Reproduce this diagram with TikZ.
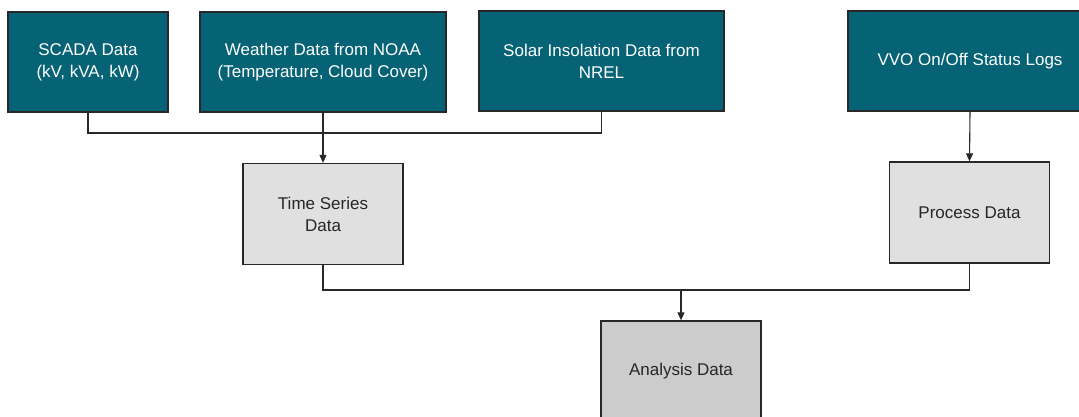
\documentclass[tikz,border=0pt]{standalone}
\usepackage{fontspec}
\setmainfont{Liberation Sans}
\definecolor{sourceteal}{RGB}{6,98,117}
\definecolor{stagegray}{RGB}{224,224,224}
\definecolor{resultgray}{RGB}{204,204,204}
\definecolor{linegray}{RGB}{40,40,40}
\usetikzlibrary{arrows.meta, positioning}

\tikzset{
  basebox/.style={draw=linegray, line width=1.3pt, align=center, inner sep=2pt,
    font=\fontsize{17}{22}\selectfont},
  sourcebox/.style={basebox, fill=sourceteal, text=white, minimum height=100pt},
  stagebox/.style={basebox, fill=stagegray, text=black!85, minimum width=160pt, minimum height=101pt},
  resultbox/.style={basebox, fill=resultgray, text=black!85, minimum width=160pt, minimum height=100pt},
  flow/.style={draw=linegray, line width=1.1pt},
  flowarrow/.style={flow, -{Triangle[length=8pt, width=7pt]}}
}

\begin{document}
\begin{tikzpicture}[x=1pt, y=-1pt]
  \useasboundingbox (0,0) rectangle (1079,416);

  % Data sources
  \node[sourcebox, minimum width=160pt] (scada) at (88,62) {SCADA Data\\(kV, kVA, kW)};
  \node[sourcebox, minimum width=246pt] (weather) at (323,62) {Weather Data from NOAA\\(Temperature, Cloud Cover)};
  \node[sourcebox, minimum width=245pt] (solar) at (601.5,61) {Solar Insolation Data from\\NREL};
  \node[sourcebox, minimum width=244pt] (vvo) at (970,61) {VVO On/Off Status Logs};

  % Processing stages
  \node[stagebox] (timeseries) at (323,214) {Time Series\\Data};
  \node[stagebox] (process) at (969.5,212.5) {Process Data};
  \node[resultbox] (analysis) at (681,371) {Analysis Data};

  % Merge of the three sources
  \coordinate (join1) at (323,133);
  \draw[flow] (scada.south) |- (join1);
  \draw[flow] (solar.south) |- (join1);
  \draw[flowarrow] (weather.south) -- (timeseries.north);
  \draw[flowarrow] (vvo.south) -- (process.north);

  % Merge into analysis
  \coordinate (join2) at (681,290);
  \draw[flow] (timeseries.south) |- (join2);
  \draw[flow] (process.south) |- (join2);
  \draw[flowarrow] (join2) -- (analysis.north);
\end{tikzpicture}
\end{document}
